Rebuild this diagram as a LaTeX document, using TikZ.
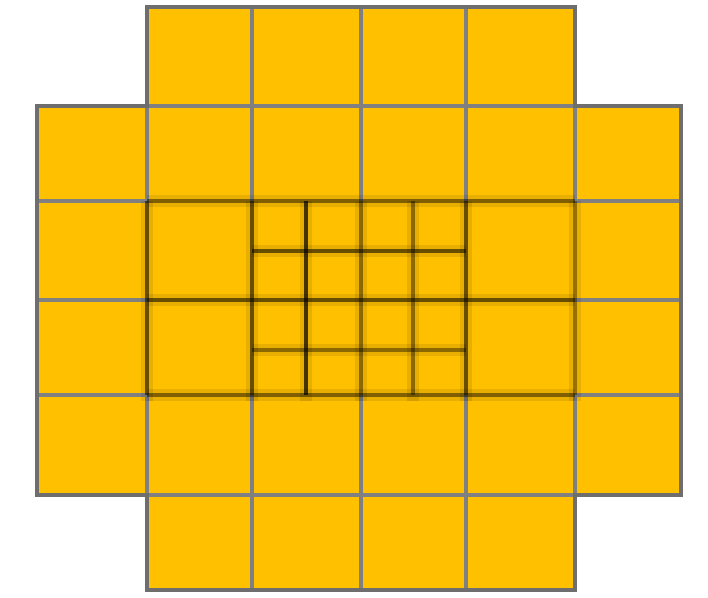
\documentclass[tikz,border=0pt]{standalone}
\usepackage{xcolor}
\usepackage{tikz}
\definecolor{cellyellow}{RGB}{255,192,0}

\begin{document}
\begin{tikzpicture}[x=0.01cm, y=-0.01cm,
    gridline/.style={line width=1.3pt, draw=black!50},
    rimline/.style={line width=1.3pt, draw=black!57},
    coreline/.style={line width=1.3pt, draw=black, draw opacity=#1},
    halo/.style={line width=3.6pt, draw=black, draw opacity=0.09}]
  \useasboundingbox (0,0) rectangle (708,598);

  % Board
  \fill[cellyellow]
    (147,7) -- (575,7) -- (575,106) -- (681,106) -- (681,495) -- (575,495) --
    (575,590) -- (147,590) -- (147,495) -- (37,495) -- (37,106) -- (147,106) -- cycle;

  % Outer grid
  \foreach \x in {252,361,466} {
    \draw[gridline] (\x,7) -- (\x,201) (\x,395) -- (\x,590);
  }
  \foreach \x in {147,575} {
    \draw[gridline] (\x,106) -- (\x,201) (\x,395) -- (\x,495);
  }
  \foreach \y in {201,300,395} {
    \draw[gridline] (37,\y) -- (147,\y) (575,\y) -- (681,\y);
  }
  \draw[gridline] (147,106) -- (575,106) (147,495) -- (575,495);

  % Rim
  \draw[rimline]
    (147,7) -- (575,7) -- (575,106) -- (681,106) -- (681,495) -- (575,495) --
    (575,590) -- (147,590) -- (147,495) -- (37,495) -- (37,106) -- (147,106) -- cycle;

  % Core (overlapping cells)
  \foreach \x/\op in {147/0.55,252/0.55,306/0.7,361/0.4,413/0.4,466/0.55,575/0.35} {
    \draw[halo] (\x,201) -- (\x,401);
    \draw[coreline=\op] (\x,201) -- (\x,395);
  }
  \foreach \y/\op in {201/0.45,300/0.55,395/0.45} {
    \draw[halo] (147,\y) -- (575,\y);
    \draw[coreline=\op] (147,\y) -- (575,\y);
  }
  \foreach \y/\op in {251/0.55,350/0.4} {
    \draw[halo] (252,\y) -- (466,\y);
    \draw[coreline=\op] (252,\y) -- (466,\y);
  }
\end{tikzpicture}
\end{document}
